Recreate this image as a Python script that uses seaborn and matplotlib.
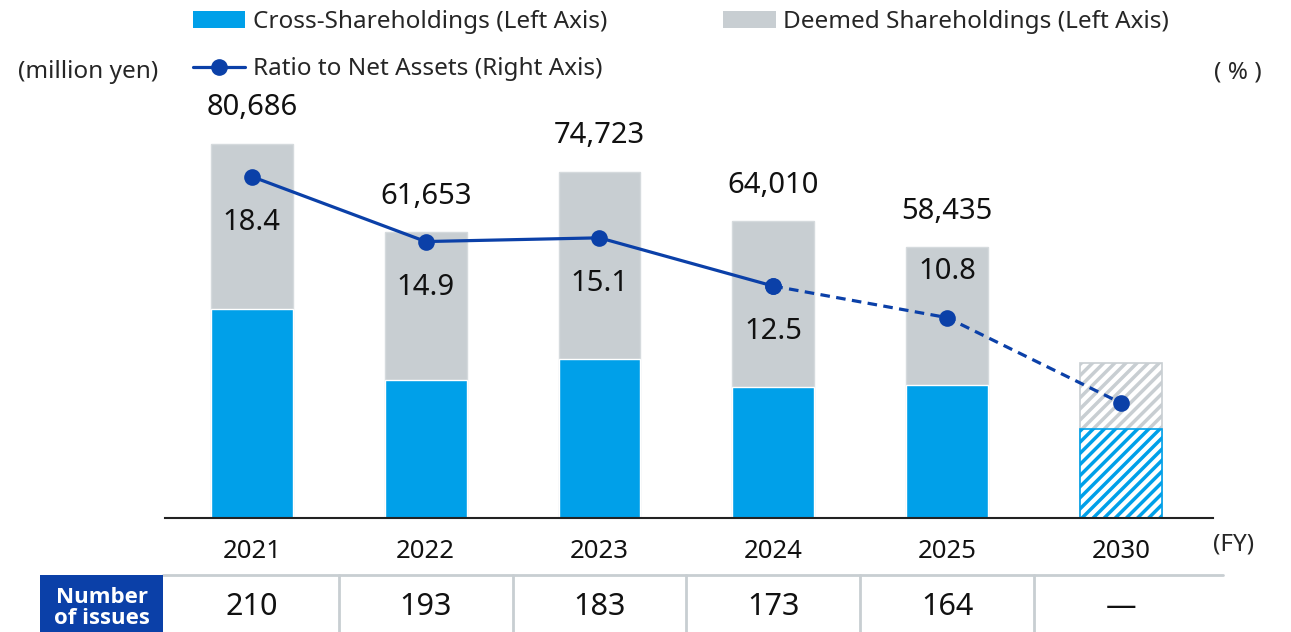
import matplotlib
matplotlib.use('Agg')
import matplotlib.pyplot as plt
import matplotlib.transforms as mtransforms
from matplotlib.patches import Patch, Rectangle
from matplotlib.lines import Line2D
import seaborn as sns

# data
years = ['2021', '2022', '2023', '2024', '2025', '2030']
total = [80686, 61653, 74723, 64010, 58435, 33400]
cross = [45100, 29800, 34300, 28300, 28700, 19200]
ratio = [18.4, 14.9, 15.1, 12.5, 10.8, 6.2]
ratio_labels = ['18.4', '14.9', '15.1', '12.5', '10.8']
issues = ['210', '193', '183', '173', '164', '—']

BLUE = '#00a0e9'
GRAY = '#c8ced2'
NAVY = '#0b40a8'

sns.set_style('white')
plt.rcParams['font.family'] = ['Noto Sans', 'DejaVu Sans']
plt.rcParams['hatch.linewidth'] = 2.5

fig = plt.figure(figsize=(12.91, 6.32), dpi=100)
ax = fig.add_axes([0.1278, 0.1804, 0.8118, 0.6614])

# stacked bars: total (gray) behind, cross-shareholdings (blue) in front
sns.barplot(x=years, y=total, color=GRAY, width=0.47, saturation=1, ax=ax)
sns.barplot(x=years, y=cross, color=BLUE, width=0.47, saturation=1, ax=ax)
for p in ax.patches[:6]:
    p.set_edgecolor('#d5dadd')
    p.set_linewidth(1)

# 2030 target bars are hatched
n = len(years)
gray_2030 = ax.patches[n - 1]
blue_2030 = ax.patches[2 * n - 1]
for p, c in [(gray_2030, GRAY), (blue_2030, BLUE)]:
    p.set_facecolor('white')
    p.set_hatch('///')
    p.set_edgecolor(c)
    p.set_linewidth(1.2)

ax.set_xlim(-0.5, 5.53)
ax.set_ylim(0, 90183)
ax.set_yticks([])
ax.set_ylabel('')
for s in ['left', 'right', 'top']:
    ax.spines[s].set_visible(False)
ax.spines['bottom'].set_color('#222222')
ax.spines['bottom'].set_linewidth(1.5)
ax.tick_params(axis='x', length=0, pad=15, labelsize=18.5, labelcolor='#111111')

for i in range(5):
    ax.annotate(f'{total[i]:,}', (i, total[i]), xytext=(0, 26), textcoords='offset points',
                ha='center', va='center', fontsize=21, color='#111111', annotation_clip=False)

# ratio line on right axis
ax2 = ax.twinx()
sns.lineplot(x=[0, 1, 2, 3], y=ratio[:4], color=NAVY, linewidth=2.3, marker='o',
             markersize=12, markeredgewidth=0, ax=ax2)
sns.lineplot(x=[3, 4, 5], y=ratio[3:], color=NAVY, linewidth=2.3, marker='o',
             markersize=12, markeredgewidth=0, dashes=False, ax=ax2)
ax2.lines[-1].set_linestyle((0, (3, 2)))
ax2.set_ylim(0, 22.53)
ax2.set_yticks([])
ax2.set_ylabel('')
for s in ax2.spines.values():
    s.set_visible(False)

for i, lab in enumerate(ratio_labels):
    dy = 33 if i == 4 else -33
    ax2.annotate(lab, (i, ratio[i]), xytext=(0, dy), textcoords='offset points',
                 ha='center', va='center', fontsize=21, color='#111111')

# legend
handles = [Patch(facecolor=BLUE, edgecolor='none'),
           Line2D([], [], color=NAVY, lw=2.3, marker='o', markersize=11),
           Patch(facecolor=GRAY, edgecolor='none')]
labels = ['Cross-Shareholdings (Left Axis)', 'Ratio to Net Assets (Right Axis)',
          'Deemed Shareholdings (Left Axis)']
fig.legend(handles, labels, loc='upper left', bbox_to_anchor=(193 / 1291, 1 - 10 / 632),
           ncol=2, frameon=False, fontsize=17.5, borderpad=0, borderaxespad=0,
           handlelength=2.15, handleheight=0.65, handletextpad=0.3,
           columnspacing=4.8, labelspacing=0.95)

fig.text(18 / 1291, 1 - 72 / 632, '(million yen)', ha='left', va='center', fontsize=17.5)
fig.text(1238 / 1291, 1 - 72 / 632, '( % )', ha='center', va='center', fontsize=17.5)
fig.text(1234 / 1291, 1 - 545 / 632, '(FY)', ha='center', va='center', fontsize=17.5)

# number of issues table
tr = mtransforms.blended_transform_factory(ax.transData, fig.transFigure)
y_top = 1 - 575 / 632
y_txt = 1 - 607 / 632
ax.add_line(Line2D([-0.512, 5.587], [y_top, y_top], transform=tr, color=GRAY, lw=2,
                   clip_on=False))
for k in range(5):
    ax.add_line(Line2D([k + 0.5, k + 0.5], [0, y_top], transform=tr, color=GRAY, lw=2,
                       clip_on=False))
for i, v in enumerate(issues):
    ax.text(i, y_txt, v, transform=tr, ha='center', va='center', fontsize=22,
            color='#111111', clip_on=False)
fig.add_artist(Rectangle((40 / 1291, 0), 123 / 1291, y_top, transform=fig.transFigure,
                         facecolor=NAVY, edgecolor='none'))
fig.text(102 / 1291, 1 - 608 / 632, 'Number\nof issues', ha='center', va='center',
         fontsize=16, fontweight='bold', color='white', linespacing=0.95,
         family=['Open Sans', 'DejaVu Sans'])

fig.savefig('out.png', dpi=100)
